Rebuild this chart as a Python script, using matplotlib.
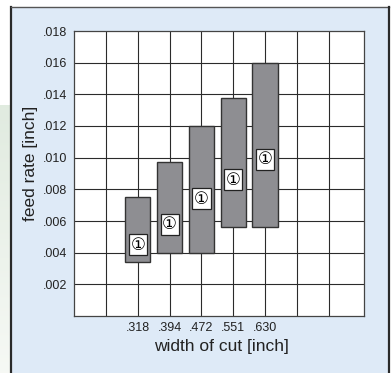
import matplotlib
matplotlib.use("Agg")
import matplotlib.pyplot as plt
import numpy as np
from matplotlib.patches import Rectangle

# ---- data ----
widths = [".318", ".394", ".472", ".551", ".630"]
positions = [2, 3, 4, 5, 6]
feed_low = [0.0034, 0.0040, 0.0040, 0.0056, 0.0056]
feed_high = [0.0075, 0.0097, 0.0120, 0.0138, 0.0160]
marker_y = [0.0045, 0.0058, 0.0074, 0.0086, 0.0099]
marker_text = "\u2460"
yticks = [0.002, 0.004, 0.006, 0.008, 0.010, 0.012, 0.014, 0.016, 0.018]
ytick_labels = [".002", ".004", ".006", ".008", ".010", ".012", ".014", ".016", ".018"]

W, H = 391, 373
fig = plt.figure(figsize=(W / 100, H / 100), dpi=100)
fig.patch.set_facecolor("white")
plt.rcParams["font.family"] = ["Liberation Sans", "DejaVu Sans", "Noto Sans CJK JP"]

def fx(px):
    return px / W

def fy(py):
    return 1 - py / H

# background axes (pixel coordinates)
bg = fig.add_axes([0, 0, 1, 1], zorder=-10)
bg.axis("off")
grad = np.linspace(0, 1, 100).reshape(-1, 1)
c_top = np.array([0.882, 0.922, 0.878])
c_bot = np.array([0.965, 0.976, 0.960])
img = c_top[None, None, :] * (1 - grad[:, :, None]) + c_bot[None, None, :] * grad[:, :, None]
bg.imshow(img, aspect="auto", extent=[0, 11, H, 105], zorder=0)
bg.add_patch(Rectangle((11, 7), 378, H - 7, facecolor="#deeaf7", edgecolor="none", zorder=1))
bg.plot([11, 11], [7, H], color="#2a2a2a", lw=1.6, zorder=2)
bg.plot([11, 389], [7, 7], color="#555555", lw=1.0, zorder=2)
bg.plot([389, 389], [7, H], color="#2a2a2a", lw=1.6, zorder=2)
bg.set_xlim(0, W)
bg.set_ylim(H, 0)

# main axes
left, right, top, bottom = 74, 364, 31, 316
ax = fig.add_axes([fx(left), fy(bottom), fx(right) - fx(left), fy(top) - fy(bottom)], zorder=1)
ax.set_facecolor("white")
ax.set_xlim(0, 9.1)
ax.set_ylim(0, 0.018)
ax.set_axisbelow(True)

# grid lines
for gx in range(1, 9):
    ax.axvline(gx, color="#2b2b2b", lw=0.8, zorder=1)
for gy in yticks[:-1]:
    ax.axhline(gy, color="#2b2b2b", lw=0.8, zorder=1)

for s in ax.spines.values():
    s.set_color("#444444")
    s.set_linewidth(0.9)

bar_w = 0.8
heights = [h - l for h, l in zip(feed_high, feed_low)]
ax.bar(positions, heights, bottom=feed_low, width=bar_w, color="#8e8e92",
       edgecolor="#333333", linewidth=1.0, zorder=3)

for x, y in zip(positions, marker_y):
    ax.text(x, y, marker_text, ha="center", va="center", fontsize=12,
            family=["DejaVu Sans", "Noto Sans CJK JP"], zorder=5,
            bbox=dict(boxstyle="square,pad=0.1", facecolor="white", edgecolor="#222222", linewidth=0.9))

ax.set_xticks(positions)
ax.set_xticklabels(widths, fontsize=9, color="#222222")
ax.set_yticks(yticks)
ax.set_yticklabels(ytick_labels, fontsize=9, color="#222222")
ax.tick_params(axis="both", length=0)
ax.tick_params(axis="x", pad=4)
ax.tick_params(axis="y", pad=5)

fig.text(fx(221), fy(347), "width of cut [inch]", ha="center", va="center", fontsize=12.5, color="#222222")
fig.text(fx(30), fy(163), "feed rate [inch]", ha="center", va="center", rotation=90, fontsize=12.5, color="#222222")

fig.savefig("out.png", dpi=100, facecolor=fig.get_facecolor())
